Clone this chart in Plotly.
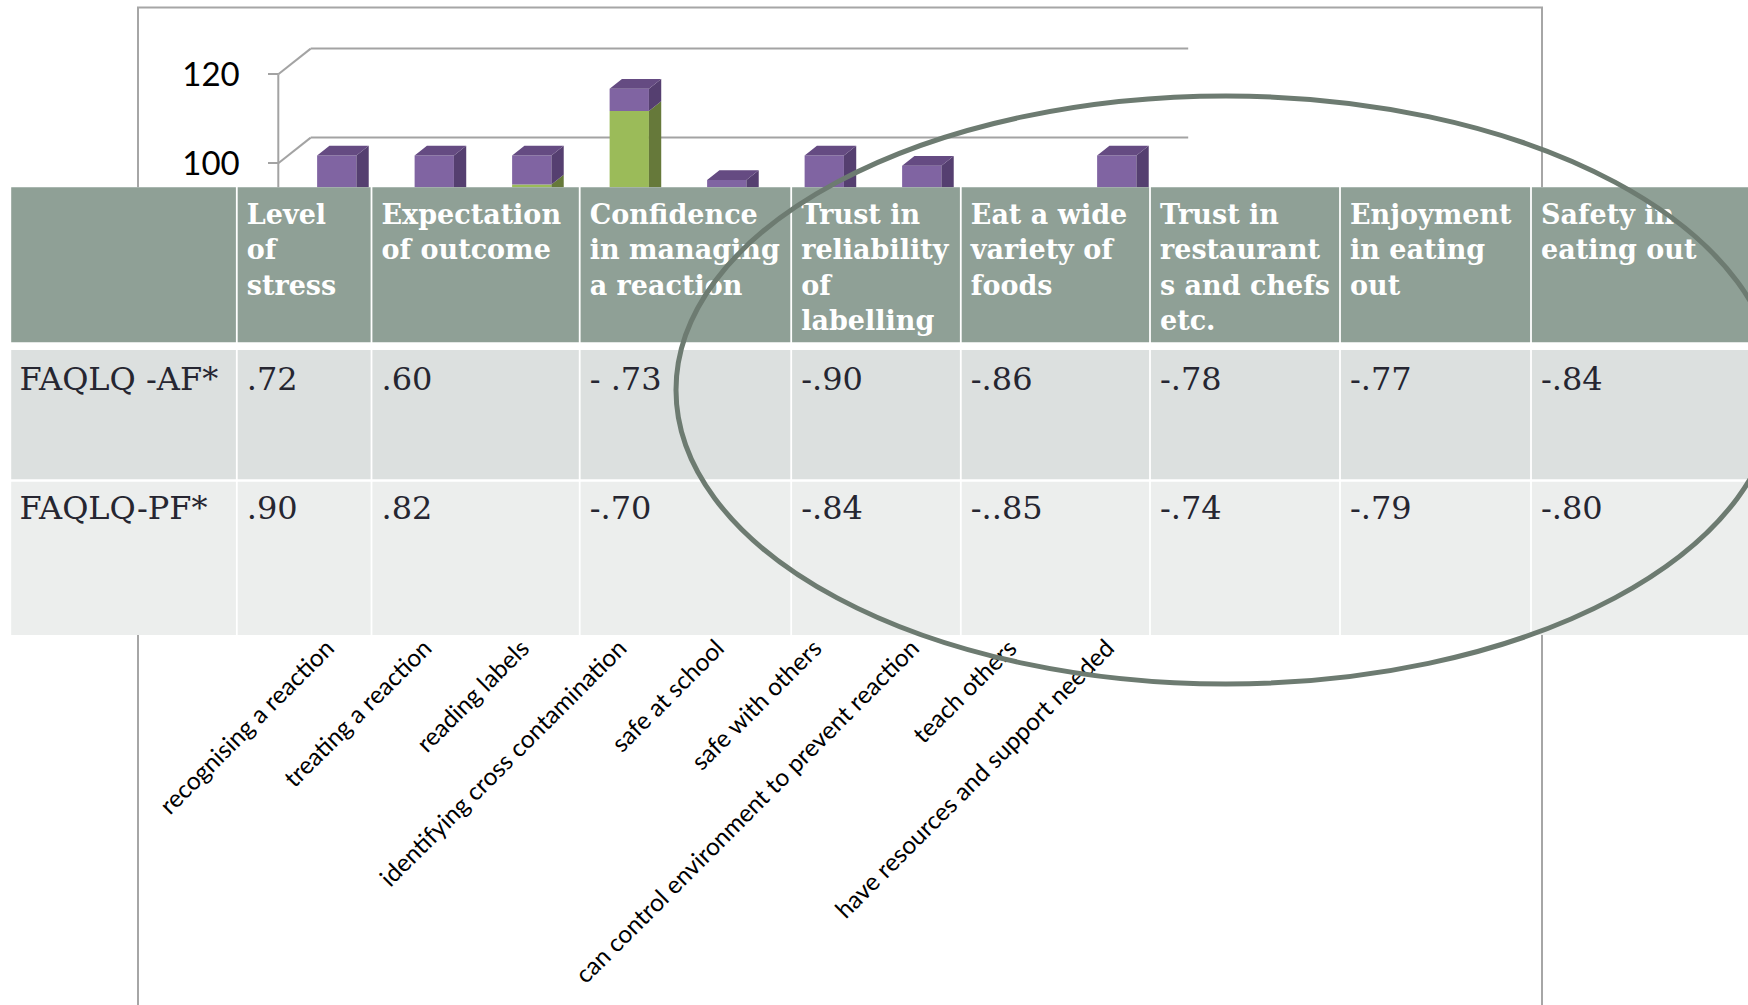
import plotly.graph_objects as go

# ---------------- data ----------------
categories = [
    "recognising a reaction",
    "treating a reaction",
    "reading labels",
    "identifying cross contamination",
    "safe at school",
    "safe with others",
    "can control environment to prevent reaction",
    "teach others",
    "have resources and support needed",
]
green_values = [85, 82, 93.5, 110, 80, 86, 84, 70, 87]
purple_values = [15, 18, 6.5, 5, 14.5, 14, 13.7, 18, 13]
value_ticks = [0, 20, 40, 60, 80, 100, 120]
labelled_ticks = [100, 120]

column_headers = [
    "",
    "Level<br>of<br>stress",
    "Expectation<br>of outcome",
    "Confidence<br>in managing<br>a reaction",
    "Trust in<br>reliability<br>of<br>labelling",
    "Eat a wide<br>variety of<br>foods",
    "Trust in<br>restaurant<br>s and chefs<br>etc.",
    "Enjoyment<br>in eating<br>out",
    "Safety in<br>eating out",
]
row_labels = ["FAQLQ -AF*", "FAQLQ-PF*"]
af_values = [".72", ".60", "- .73", "-.90", "-.86", "-.78", "-.77", "-.84"]
pf_values = [".90", ".82", "-.70", "-.84", "-..85", "-.74", "-.79", "-.80"]

# ---------------- layout constants (pixels) ----------------
W, H = 1748, 1005
AXIS_PX = 278.3        # front value axis
CAT_PX = 97.5          # width of one category on the floor
VAL_PX = 4.45          # pixels per value unit
Y100_PX = 163.3        # pixel row of value 100 on the front axis
DEPTH_DX = 32.4 / CAT_PX   # wall depth in category units
DEPTH_DY = 25.7 / VAL_PX   # wall depth in value units
F_FRONT, F_BACK = 0.30, 0.68   # depth band occupied by the columns
BAR_W = 0.403

x_range = [-0.5 - AXIS_PX / CAT_PX, -0.5 + (W - AXIS_PX) / CAT_PX]
y_range = [100 - (H - Y100_PX) / VAL_PX, 100 + Y100_PX / VAL_PX]

PURPLE = dict(front="#8064a2", side="#553f70", top="#654b82")
GREEN = dict(front="#9bbb59", side="#66793a", top="#7e9a45")
GRID = "#a3a3a3"

fig = go.Figure()

# ---------------- 3-D stacked columns ----------------
n = len(categories)
xs = list(range(n))
fdx, fdy = F_FRONT * DEPTH_DX, F_FRONT * DEPTH_DY
bdx, bdy = F_BACK * DEPTH_DX, F_BACK * DEPTH_DY

segments = [
    (green_values, [0] * n, GREEN),
    (purple_values, green_values, PURPLE),
]
for seg_vals, seg_base, col in segments:
    fig.add_trace(go.Bar(
        x=[c + fdx for c in xs], y=seg_vals, base=[b + fdy for b in seg_base],
        width=BAR_W, marker=dict(color=col["front"], line=dict(width=0)),
        hoverinfo="skip", showlegend=False, xaxis="x", yaxis="y",
    ))

for seg_vals, seg_base, col in segments:
    sx, sy = [], []
    for c, v, b in zip(xs, seg_vals, seg_base):
        xr = c + BAR_W / 2
        s0, s1 = b, b + v
        sx += [xr + fdx, xr + bdx, xr + bdx, xr + fdx, xr + fdx, None]
        sy += [s0 + fdy, s0 + bdy, s1 + bdy, s1 + fdy, s0 + fdy, None]
    fig.add_trace(go.Scatter(x=sx, y=sy, mode="lines", fill="toself",
                             fillcolor=col["side"], line=dict(width=0),
                             hoverinfo="skip", showlegend=False))

# top faces of the upper segments
tx, ty = [], []
for c, g, p in zip(xs, green_values, purple_values):
    xl, xr = c - BAR_W / 2, c + BAR_W / 2
    t = g + p
    tx += [xl + fdx, xr + fdx, xr + bdx, xl + bdx, xl + fdx, None]
    ty += [t + fdy, t + fdy, t + bdy, t + bdy, t + fdy, None]
fig.add_trace(go.Scatter(x=tx, y=ty, mode="lines", fill="toself",
                         fillcolor=PURPLE["top"], line=dict(width=0),
                         hoverinfo="skip", showlegend=False))

# walls: back gridlines, side diagonals, front axis
shapes = []
x_front_left = -0.5
x_back_left = -0.5 + DEPTH_DX
x_back_right = n - 0.5 + DEPTH_DX
for v in value_ticks:
    shapes.append(dict(type="line", xref="x", yref="y", layer="below",
                       x0=x_back_left, x1=x_back_right, y0=v + DEPTH_DY, y1=v + DEPTH_DY,
                       line=dict(color=GRID, width=2)))
    shapes.append(dict(type="line", xref="x", yref="y", layer="below",
                       x0=x_front_left, x1=x_back_left, y0=v, y1=v + DEPTH_DY,
                       line=dict(color=GRID, width=2)))
shapes.append(dict(type="line", xref="x", yref="y", layer="below",
                   x0=x_front_left, x1=x_front_left, y0=0, y1=max(value_ticks),
                   line=dict(color=GRID, width=2)))

# ---------------- table (pixel coordinates on x2/y2) ----------------
col_edges = [11.2, 236.8, 371.5, 579.7, 791.2, 960.8, 1150.0, 1340.0, 1531.0, 1760.0]
header_band = (187.3, 342.3)
row_bands = [(350.0, 479.3), (481.7, 635.0)]
GAP = 1.8
HEADER_FILL = "#8fa096"
ROW_FILLS = ["#dce0df", "#eceeed"]
TEXT_DARK = "#262631"

# white backing so the rules between cells stay white
tb_x0, tb_x1 = col_edges[0], col_edges[-1]
tb_y0, tb_y1 = header_band[0], row_bands[-1][1]
fig.add_trace(go.Scatter(x=[tb_x0, tb_x1, tb_x1, tb_x0, tb_x0],
                         y=[tb_y0, tb_y0, tb_y1, tb_y1, tb_y0],
                         mode="lines", fill="toself", fillcolor="white", line=dict(width=0),
                         hoverinfo="skip", showlegend=False, xaxis="x2", yaxis="y2"))


def band_rects(y0, y1):
    px, py = [], []
    for i in range(len(col_edges) - 1):
        a = col_edges[i] + (GAP / 2 if i > 0 else 0)
        b = col_edges[i + 1] - GAP / 2
        px += [a, b, b, a, a, None]
        py += [y0, y0, y1, y1, y0, None]
    return px, py


for (y0, y1), fill in [(header_band, HEADER_FILL)] + list(zip(row_bands, ROW_FILLS)):
    px, py = band_rects(y0, y1)
    fig.add_trace(go.Scatter(x=px, y=py, mode="lines", fill="toself", fillcolor=fill,
                             line=dict(width=0), hoverinfo="skip", showlegend=False,
                             xaxis="x2", yaxis="y2"))

HEAD_FS = 27
BODY_FS = 32
fig.add_trace(go.Scatter(
    x=[col_edges[i] + 10 for i in range(len(column_headers))],
    y=[224.3 - 0.75 * HEAD_FS] * len(column_headers),
    text=column_headers, mode="text", textposition="bottom right",
    textfont=dict(family="DejaVu Serif", size=HEAD_FS, color="white", weight="bold"),
    hoverinfo="skip", showlegend=False, xaxis="x2", yaxis="y2"))

baselines = [389.5, 518.5]
for (label, vals), base in zip([(row_labels[0], af_values), (row_labels[1], pf_values)], baselines):
    texts = [label] + vals
    xs_txt = [col_edges[0] + 8.4] + [col_edges[i] + 10 for i in range(1, len(col_edges) - 1)]
    fig.add_trace(go.Scatter(
        x=xs_txt, y=[base - 0.75 * BODY_FS] * len(texts), text=texts,
        mode="text", textposition="bottom right",
        textfont=dict(family="DejaVu Serif", size=BODY_FS, color=TEXT_DARK),
        hoverinfo="skip", showlegend=False, xaxis="x2", yaxis="y2"))

# chart-area frame
shapes.insert(0, dict(type="rect", xref="x2", yref="y2", layer="below",
                      x0=138, x1=1542, y0=7.5, y1=H + 20,
                      line=dict(color="#a6a6a6", width=2), fillcolor="rgba(0,0,0,0)"))

# highlighting ellipse
shapes.append(dict(type="circle", xref="x2", yref="y2", layer="above",
                   x0=1226 - 550, x1=1226 + 550, y0=390 - 294, y1=390 + 294,
                   line=dict(color="#6d7b71", width=5), fillcolor="rgba(0,0,0,0)"))

fig.update_layout(
    width=W, height=H, margin=dict(l=0, r=0, t=0, b=0),
    paper_bgcolor="white", plot_bgcolor="rgba(0,0,0,0)",
    barmode="overlay", showlegend=False, shapes=shapes,
    xaxis=dict(domain=[0, 1], range=x_range, anchor="free", position=1 - 628 / H,
               tickmode="array", tickvals=xs, ticktext=categories, tickangle=-45,
               tickfont=dict(family="Lato", size=24.5, color="black"),
               showgrid=False, zeroline=False, showline=False, ticks=""),
    yaxis=dict(domain=[0, 1], range=y_range, anchor="free", position=AXIS_PX / W,
               tickmode="array", tickvals=labelled_ticks, ticks="outside", ticklen=10,
               tickwidth=2, tickcolor=GRID, ticklabelstandoff=22,
               tickfont=dict(family="Lato", size=33, color="black"),
               showgrid=False, zeroline=False, showline=False),
    xaxis2=dict(domain=[0, 1], range=[0, W], anchor="y2", visible=False),
    yaxis2=dict(domain=[0, 1], range=[H, 0], anchor="x2", visible=False),
)

fig.write_html("out.html")
